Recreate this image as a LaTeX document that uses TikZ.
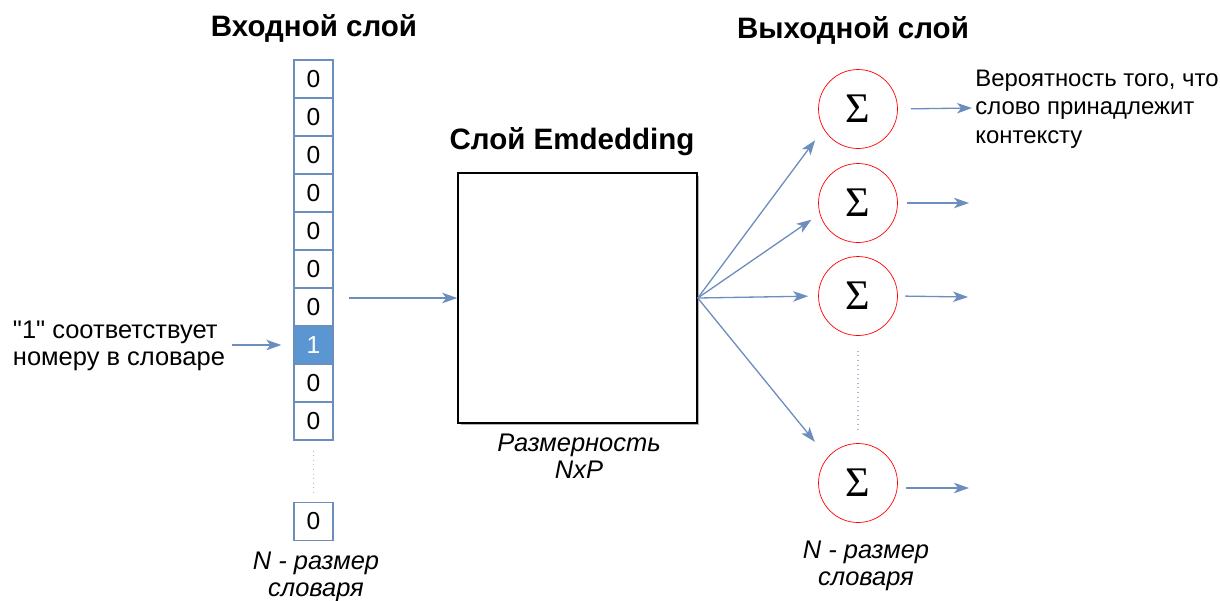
\documentclass[tikz,border=0pt]{standalone}
\usepackage{fontspec}
\setmainfont{Liberation Sans}
\newfontfamily\sigmafont{Liberation Serif}
\usetikzlibrary{arrows.meta, shadows, calc}

\definecolor{cellblue}{HTML}{6C8EBF}
\definecolor{onefill}{HTML}{5A96D2}

\begin{document}
\begin{tikzpicture}[
    x=0.02cm, y=-0.02cm,
    % Cells of the one-hot vector
    cell/.style={draw=cellblue, line width=0.8pt, fill=white,
        minimum width=0.78cm, minimum height=0.76cm, inner sep=0pt,
        font=\fontsize{14}{16}\selectfont},
    onecell/.style={cell, fill=onefill, text=white},
    % Output neurons
    neuron/.style={circle, draw=red, line width=0.4pt,
        minimum size=1.58cm, inner sep=0pt,
        font=\fontsize{24}{28}\selectfont\sigmafont},
    % Connectors
    arr/.style={draw=cellblue, line width=0.75pt,
        -{Stealth[length=0.3cm, width=0.21cm, inset=0.08cm]}},
    dots/.style={draw=cellblue!60, line width=0.6pt, dotted},
    % Texts
    layertitle/.style={font=\fontsize{16.8}{19}\selectfont\bfseries},
    note/.style={font=\fontsize{14.5}{15.6}\selectfont, align=left, inner sep=0pt},
    dim/.style={font=\fontsize{14.5}{15.4}\selectfont\itshape, align=center}
]

    \useasboundingbox (0,0) rectangle (1220,600);

    % Input layer

    %% One-hot column
    \foreach \i/\v in {1/0, 2/0, 3/0, 4/0, 5/0, 6/0, 7/0, 9/0, 10/0}
        \node[cell] (c\i) at (313.5, 41+38*\i) {\v};
    \node[onecell] (c8) at (313.5, 345) {1};
    \node[cell] (cN) at (313.5, 521.5) {0};

    %% Gap between the last cells
    \draw[dots] ($(c10.south) + (0,10)$) -- ($(cN.north) + (0,-6)$);

    %% Labels
    \node[layertitle] (intitle) at (314, 28) {Входной слой};
    \node[dim] (insize) at (316, 577) {N - размер\\словаря};
    \node[note] (hint) at (119, 346)
        {\textquotedbl1\textquotedbl{} соответствует\\номеру в словаре};
    \draw[arr, shorten <=0.14cm, shorten >=0.24cm] (hint.east |- c8.west) -- (c8.west);


    % Embedding layer

    \node[draw=black, line width=0.9pt, fill=white,
        minimum width=4.78cm, minimum height=5cm,
        drop shadow={shadow xshift=0.05cm, shadow yshift=-0.05cm,
            fill=black!30, opacity=1}] (emb) at (577.5, 298) {};
    \node[layertitle] (embtitle) at (572, 142) {Слой Emdedding};
    \node[dim] (embsize) at (579, 456) {Размерность\\NxP};

    \draw[arr, shorten <=0.3cm] (c7.east |- emb.west) -- (emb.west);


    % Output layer

    %% Neurons
    \node[neuron] (o1) at (858, 109) {Σ};
    \node[neuron] (o2) at (858, 203) {Σ};
    \node[neuron] (o3) at (858, 296) {Σ};
    \node[neuron] (o4) at (858, 483) {Σ};
    \draw[dots] ($(o3.south) + (0,15)$) -- ($(o4.north) + (0,-13)$);

    %% Fan-out from the embedding
    \draw[arr, shorten >=0.28cm] (emb.east) -- (o1.210);
    \draw[arr, shorten >=0.2cm] (emb.east) -- (o2.196);
    \draw[arr, shorten >=0.2cm] (emb.east) -- (o3.west);
    \draw[arr, shorten >=0.4cm] (emb.east) -- (o4.140);

    %% Outputs
    \coordinate (out1) at (972, 108);
    \coordinate (out2) at (969, 203);
    \coordinate (out3) at (968, 297);
    \coordinate (out4) at (969, 488);
    \draw[arr, shorten <=0.26cm] (o1.east) -- (out1);
    \draw[arr, shorten <=0.19cm] (o2.east) -- (out2);
    \draw[arr, shorten <=0.15cm] (o3.east) -- (out3);
    \draw[arr, shorten <=0.17cm] (o4.east |- out4) -- (out4);

    %% Labels
    \node[layertitle] (outtitle) at (853, 30) {Выходной слой};
    \node[note, anchor=west, font=\fontsize{13.6}{16.3}\selectfont]
        (prob) at (975, 109)
        {Вероятность того, что\\слово принадлежит\\контексту};
    \node[dim] (outsize) at (866, 566) {N - размер\\словаря};

\end{tikzpicture}
\end{document}
